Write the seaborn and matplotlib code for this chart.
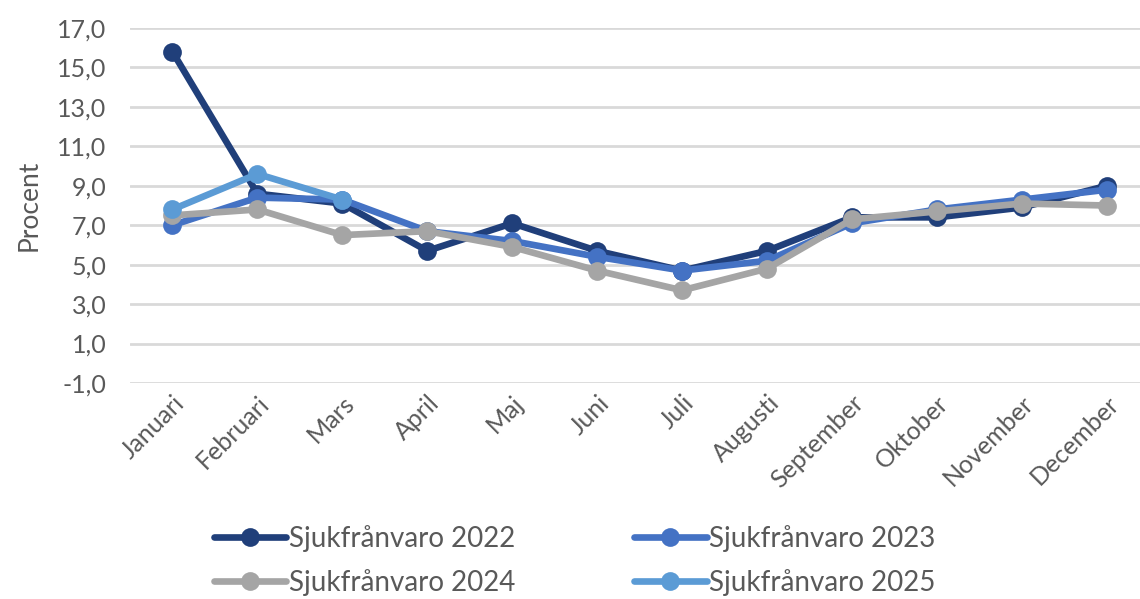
import pandas as pd
import numpy as np
import matplotlib
matplotlib.use("Agg")
import matplotlib.pyplot as plt
import seaborn as sns
from matplotlib.ticker import FuncFormatter

# ------------------------------------------------------------------ data
months = ["Januari", "Februari", "Mars", "April", "Maj", "Juni", "Juli",
          "Augusti", "September", "Oktober", "November", "December"]
sjuk_2022 = [15.8, 8.6, 8.1, 5.7, 7.1, 5.7, 4.7, 5.7, 7.4, 7.4, 7.9, 9.0]
sjuk_2023 = [7.0, 8.4, 8.3, 6.7, 6.2, 5.4, 4.7, 5.2, 7.1, 7.8, 8.3, 8.8]
sjuk_2024 = [7.5, 7.8, 6.5, 6.7, 5.9, 4.7, 3.7, 4.8, 7.3, 7.7, 8.1, 8.0]
sjuk_2025 = [7.8, 9.6, 8.3, np.nan, np.nan, np.nan, np.nan, np.nan,
             np.nan, np.nan, np.nan, np.nan]
series_names = ["Sjukfrånvaro 2022", "Sjukfrånvaro 2023",
                "Sjukfrånvaro 2024", "Sjukfrånvaro 2025"]
y_ticks = [-1, 1, 3, 5, 7, 9, 11, 13, 15, 17]

frames = []
for name, vals in zip(series_names, [sjuk_2022, sjuk_2023, sjuk_2024, sjuk_2025]):
    frames.append(pd.DataFrame({"Månad": months, "Procent": vals, "Serie": name}))
df = pd.concat(frames).dropna()

palette = {"Sjukfrånvaro 2022": "#203f7a", "Sjukfrånvaro 2023": "#4472c4",
           "Sjukfrånvaro 2024": "#a5a5a5", "Sjukfrånvaro 2025": "#5b9bd5"}

# ------------------------------------------------------------------ plot
sns.set_style("white")
plt.rcParams["font.family"] = ["Lato", "DejaVu Sans"]

fig = plt.figure(figsize=(11.4, 5.99), dpi=100)
ax = fig.add_axes([0.114, 0.3606, 0.886, 0.5926])

x_pos = {m: i for i, m in enumerate(months)}
df["x"] = df["Månad"].map(x_pos)

sns.lineplot(data=df, x="x", y="Procent", hue="Serie", hue_order=series_names,
             palette=palette, marker="o", markersize=13.5, linewidth=4.8,
             markeredgewidth=0, ax=ax, sort=False)

ax.set_ylim(-1, 17)
ax.set_yticks(y_ticks)
ax.yaxis.set_major_formatter(FuncFormatter(lambda v, p: f"{v:.1f}".replace(".", ",")))
ax.set_xlim(-0.5, 11.39)
ax.set_xticks(range(len(months)))
ax.set_xticklabels(months, rotation=45, ha="right", rotation_mode="anchor")

ax.grid(axis="y", color="#d9d9d9", linewidth=2)
ax.set_axisbelow(True)
for s in ax.spines.values():
    s.set_visible(False)

ax.tick_params(axis="both", length=0, labelsize=18, labelcolor="#595959")
ax.tick_params(axis="y", pad=17)
ax.tick_params(axis="x", pad=6)
ax.set_xlabel("")
ax.set_ylabel("Procent", fontsize=19, color="#595959", labelpad=11)

# legend filled row by row, as in the reference
handles, labels = ax.get_legend_handles_labels()
order = [0, 2, 1, 3]
ax.legend([handles[i] for i in order], [labels[i] for i in order], ncol=2,
          loc="upper left", bbox_to_anchor=(0.058, -0.33), frameon=False,
          fontsize=20, labelcolor="#595959", handlelength=2.6,
          handletextpad=0.1, columnspacing=4.3, labelspacing=0.6)

fig.savefig("out.png", dpi=100)
